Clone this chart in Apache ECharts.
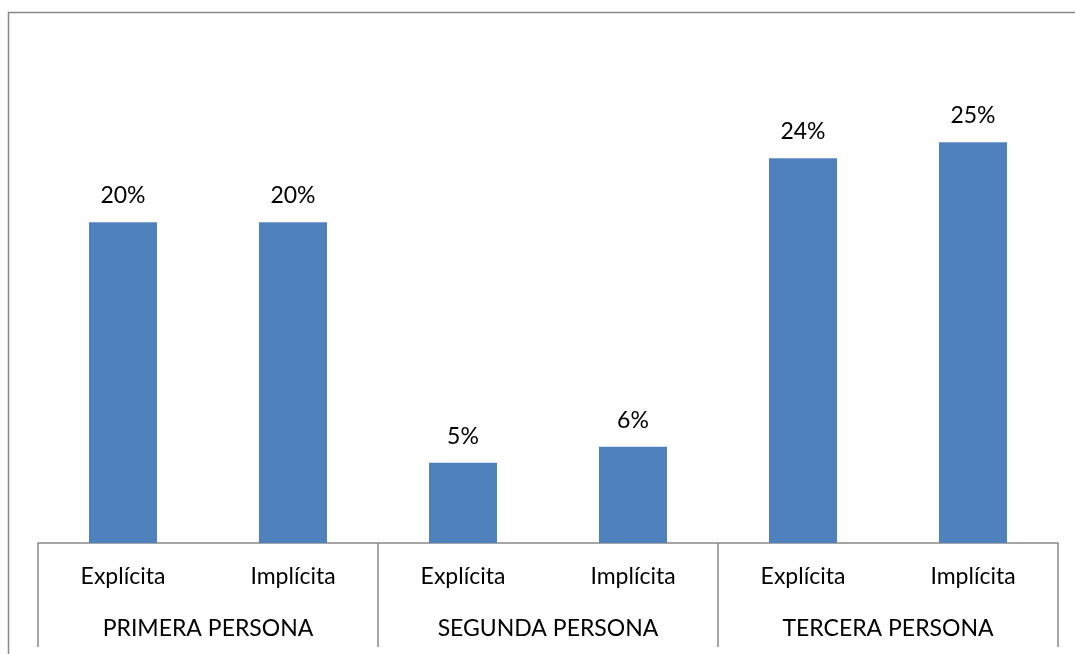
<!DOCTYPE html>
<html>
<head>
<meta charset="utf-8">
<script src="https://cdn.jsdelivr.net/npm/echarts@6/dist/echarts.min.js"></script>
<style>
  html, body { margin: 0; padding: 0; background: #fff; }
  #chart { width: 1075px; height: 654px; }
</style>
</head>
<body>
<div id="chart"></div>
<script>
// Inner categories (one per bar) and the person groups they belong to
const categories = ['Explícita', 'Implícita', 'Explícita', 'Implícita', 'Explícita', 'Implícita'];
const groups = ['PRIMERA PERSONA', 'SEGUNDA PERSONA', 'TERCERA PERSONA'];
// Share of each reference type, as fractions
const values = [0.20, 0.20, 0.05, 0.06, 0.24, 0.25];

const FONT = 'Lato';
const FS = 23;
const chart = echarts.init(document.getElementById('chart'), null, { renderer: 'canvas' });

chart.setOption({
  animation: false,
  backgroundColor: '#ffffff',
  textStyle: { fontFamily: FONT },
  grid: { left: 38, right: 17, top: 62, bottom: 111, containLabel: false },
  xAxis: [
    {
      type: 'category',
      data: categories,
      position: 'bottom',
      axisLine: { show: true, lineStyle: { color: '#888888', width: 1.5 } },
      axisTick: { show: false },
      axisLabel: { color: '#000', fontSize: FS, fontFamily: FONT, margin: 22 }
    },
    {
      type: 'category',
      data: groups,
      position: 'bottom',
      axisLine: { show: false },
      axisTick: { show: true, length: 104, lineStyle: { color: '#888888', width: 1.5 } },
      axisLabel: { color: '#000', fontSize: FS, fontFamily: FONT, margin: 74 }
    }
  ],
  yAxis: {
    type: 'value',
    min: 0,
    max: 0.30,
    show: false,
    splitLine: { show: false }
  },
  graphic: [
    {
      type: 'polyline',
      shape: { points: [[8.5, 654], [8.5, 12.5], [1075, 12.5]] },
      style: { stroke: '#888888', lineWidth: 1.5, fill: null },
      silent: true
    }
  ],
  series: [
    {
      type: 'bar',
      xAxisIndex: 0,
      data: values,
      barWidth: 68,
      itemStyle: { color: '#4F81BD' },
      label: {
        show: true,
        position: 'top',
        distance: 15,
        color: '#000',
        fontSize: FS,
        fontFamily: FONT,
        formatter: p => Math.round(p.value * 100) + '%'
      }
    }
  ]
});
</script>
</body>
</html>
